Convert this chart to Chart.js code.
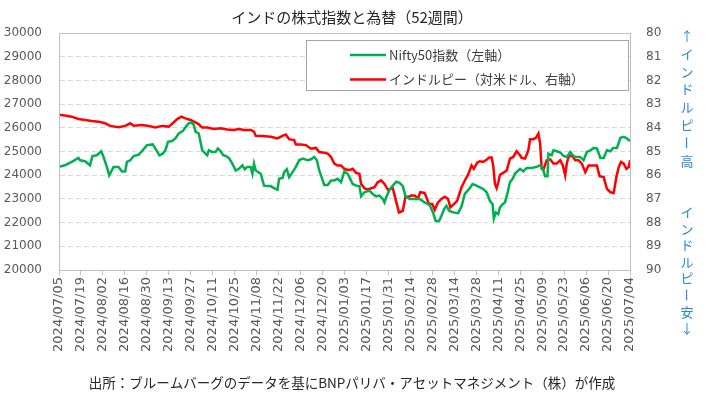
<!DOCTYPE html>
<html>
<head>
<meta charset="UTF-8">
<title>インドの株式指数と為替（52週間）</title>
<script src="https://cdn.jsdelivr.net/npm/chart.js"></script>
<style>
  body { margin: 0; background: #ffffff; }
  .wrap { position: relative; width: 707px; height: 408px; }
</style>
</head>
<body>
<div class="wrap"><canvas id="chart"></canvas></div>
<script>
// Tick labels (every 2 weeks, x = days since 2024/07/05)
const dateLabels = [
  '2024/07/05', '2024/07/19', '2024/08/02', '2024/08/16', '2024/08/30', '2024/09/13',
  '2024/09/27', '2024/10/11', '2024/10/25', '2024/11/08', '2024/11/22', '2024/12/06',
  '2024/12/20', '2025/01/03', '2025/01/17', '2025/01/31', '2025/02/14', '2025/02/28',
  '2025/03/14', '2025/03/28', '2025/04/11', '2025/04/25', '2025/05/09', '2025/05/23',
  '2025/06/06', '2025/06/20', '2025/07/04'
];
const tickStepDays = 14;

// Nifty50 index (left axis)
const niftyDays = [
  0, 3.8, 6, 8.1, 12.4, 13.4, 16.6, 19.8, 21.3, 24.1, 26.9, 28.4, 30.5, 32, 34.8, 38,
  40.1, 42.2, 43.3, 45.4, 47.6, 50.8, 53.3, 56.1, 59.7, 61.4, 64, 66.1, 67.8, 69.5, 72.1, 74.2,
  76.3, 78.9, 81, 82.7, 84.5, 85.9, 87, 89.1, 91.3, 94.5, 95.5, 97.7, 99.8, 101.3, 103, 104.7,
  106.2, 108.3, 110.5, 112.6, 114.7, 116.9, 118.4, 120.1, 122.2, 123.3, 124.3, 125.4, 128.6, 130.7, 132.9, 135,
  137.1, 139.3, 140.3, 142.5, 143.5, 145.2, 146.7, 148.9, 151, 153.1, 155.3, 158.5, 160.6, 162.7, 164.4, 165.9,
  167.4, 169.1, 171.3, 173.4, 175.5, 177.6, 179.8, 181.9, 184, 185.1, 187.2, 189.4, 191.5, 192.6, 194.7, 197.9,
  200, 202.2, 204.3, 206.4, 207.5, 208.6, 210.7, 212.8, 215, 217.1, 219.2, 220.9, 223.5, 226.7, 229.9, 233.1,
  236.3, 238.4, 240.1, 242.3, 243.8, 245.5, 247, 248.7, 251.2, 254.4, 256.6, 258.7, 261.5, 263.6, 266.2, 268.3,
  270.4, 272.6, 274.7, 276.4, 277.2, 278.5, 280, 281.1, 282.8, 284.3, 285.8, 287.5, 289.2, 290.7, 292.2, 293.9,
  296, 298.1, 301.3, 304.5, 306.7, 308.4, 309.9, 311.4, 312, 314.1, 315.2, 317.3, 319.5, 321.6, 323.7, 325.9,
  327.6, 329.1, 332.3, 334.4, 336.5, 338.7, 340.8, 342.9, 345.1, 347.2, 349.3, 351.5, 353.2, 355.7, 357.9, 360,
  362.1, 364
];
const niftyValues = [
  24350, 24420, 24490, 24560, 24730, 24630, 24590, 24420, 24810, 24840, 25010, 24770, 24350, 23990, 24350, 24350,
  24160, 24160, 24560, 24630, 24810, 24870, 25050, 25270, 25300, 25130, 24840, 24910, 25050, 25410, 25440, 25550,
  25760, 25860, 26050, 26190, 26230, 26120, 25840, 25760, 25050, 24840, 25050, 24980, 24980, 25130, 25010, 24840,
  24810, 24730, 24490, 24200, 24270, 24420, 24250, 24350, 24350, 24060, 24490, 24200, 24060, 23560, 23540, 23540,
  23450, 23390, 23850, 23880, 24130, 24250, 23920, 24130, 24350, 24630, 24700, 24630, 24670, 24770, 24630, 24200,
  23920, 23590, 23590, 23780, 23780, 23850, 23710, 24160, 24060, 23920, 23630, 23560, 23540, 23110, 23280, 23350,
  23210, 23110, 23140, 23000, 22850, 23070, 23390, 23560, 23730, 23680, 23540, 23110, 23000, 23000, 23000, 22850,
  22740, 22430, 22070, 22070, 22290, 22570, 22710, 22500, 22430, 22400, 22680, 23210, 23420, 23630, 23560, 23490,
  23420, 23280, 22920, 22780, 22170, 22430, 22360, 22640, 22780, 22850, 23210, 23710, 23850, 24060, 24160, 24270,
  24160, 24300, 24300, 24350, 24420, 24270, 23960, 23960, 24910, 24840, 25050, 25010, 24960, 24810, 24770, 24980,
  24840, 24770, 24770, 24630, 24980, 25050, 25150, 25130, 24730, 24730, 25050, 25010, 25150, 25150, 25580, 25620,
  25550, 25440
];

// Indian rupee per US dollar (right axis, reversed)
const inrDays = [
  0, 3.8, 8.1, 12.4, 16.6, 20.9, 25.2, 29.4, 32.6, 38, 42.2, 45.4, 47.6, 52.9, 57.2, 61.4,
  65.7, 70, 73.1, 75.3, 78.1, 80.6, 83.8, 87, 89.1, 91.3, 94.5, 98.7, 103, 107.3, 111.5, 114.7,
  117.9, 122.2, 124.3, 125.4, 129.7, 135, 139.3, 142.5, 144.6, 146.7, 149.9, 151, 154.2, 157.4, 160.6, 163.8,
  165.9, 169.1, 171.3, 173.4, 175.5, 177.6, 179.8, 181.9, 184, 186.2, 187.2, 189.4, 191.5, 192.6, 194.7, 196.8,
  199, 201.1, 203.2, 205.4, 207.5, 209.6, 212.8, 214.5, 216.7, 219.2, 220.9, 222.4, 224.6, 226.7, 228.8, 230.3,
  233.1, 235.9, 238, 239.5, 241.6, 243.8, 245.9, 248, 249.5, 251.7, 253.8, 256.6, 259.3, 260.8, 263, 264.4,
  266.6, 268.3, 270.4, 272.6, 274.3, 275.8, 276.8, 277.9, 279, 280, 281.1, 283.2, 285.4, 287.5, 289.6, 291.7,
  293.9, 294.9, 297.1, 299.2, 300.3, 302.4, 304.1, 305.6, 306.7, 307.7, 308.8, 310.9, 313.1, 315.2, 317.3, 319.5,
  321.2, 322.7, 323.7, 324.8, 326.9, 329.1, 331.2, 333.3, 335.5, 337.6, 340.8, 342.9, 344.6, 347.2, 349.3, 351.5,
  353.6, 355.3, 356.8, 358.3, 360, 361.7, 363.2, 364
];
const inrValues = [
  83.45, 83.48, 83.53, 83.63, 83.67, 83.71, 83.74, 83.81, 83.92, 83.98, 83.92, 83.81, 83.91, 83.88, 83.92, 83.99,
  83.92, 83.95, 83.77, 83.63, 83.53, 83.60, 83.67, 83.77, 83.85, 83.99, 83.99, 84.05, 84.02, 84.07, 84.09, 84.05,
  84.09, 84.09, 84.16, 84.34, 84.35, 84.38, 84.45, 84.34, 84.28, 84.48, 84.52, 84.70, 84.70, 84.73, 84.88, 84.85,
  85.02, 85.05, 85.09, 85.23, 85.51, 85.59, 85.59, 85.73, 85.78, 85.76, 85.73, 85.90, 85.94, 86.37, 86.55, 86.61,
  86.55, 86.51, 86.30, 86.22, 86.37, 86.61, 86.55, 87.00, 87.57, 87.50, 86.89, 86.93, 86.86, 86.86, 86.98, 86.72,
  86.75, 87.22, 87.22, 87.46, 87.15, 87.00, 86.91, 87.00, 87.36, 87.22, 87.08, 86.51, 86.15, 85.98, 85.59, 85.73,
  85.47, 85.41, 85.44, 85.35, 85.25, 85.25, 85.59, 86.37, 86.55, 86.32, 85.98, 85.90, 85.80, 85.30, 85.23, 84.99,
  85.16, 85.27, 85.30, 84.95, 84.48, 84.48, 84.42, 84.24, 84.66, 85.73, 85.76, 85.37, 85.33, 85.51, 85.51, 85.37,
  85.59, 86.01, 85.51, 85.23, 85.16, 85.37, 85.37, 85.51, 85.87, 85.59, 85.59, 85.59, 86.04, 86.08, 86.58, 86.72,
  86.75, 86.08, 85.66, 85.44, 85.51, 85.73, 85.66, 85.37
];

const seriesLabels = ['Nifty50指数（左軸）', 'インドルピー（対米ドル、右軸）'];
const seriesColors = ['#00b050', '#ff0000'];

const titleText = 'インドの株式指数と為替（52週間）';
const footerText = '出所：ブルームバーグのデータを基にBNPパリバ・アセットマネジメント（株）が作成';
const sideTextUp = ['↑', 'イ', 'ン', 'ド', 'ル', 'ピ', 'ー', '高'];
const sideTextDown = ['イ', 'ン', 'ド', 'ル', 'ピ', 'ー', '安', '↓'];

const jpFont = "'Noto Sans CJK JP', 'Noto Sans', sans-serif";
const tickFont = "'DejaVu Sans', sans-serif";

// draw one character of vertical text; the long vowel mark turns upright
function drawVerticalChar(ctx, c, x, y) {
  if (c === 'ー') {
    ctx.save();
    ctx.translate(x, y);
    ctx.rotate(Math.PI / 2);
    ctx.fillText(c, 0, 0);
    ctx.restore();
  } else {
    ctx.fillText(c, x, y);
  }
}

// Title, footer, legend box, plot frame and the blue side notes
const decorations = {
  id: 'decorations',
  afterDatasetsDraw(chart) {
    const ctx = chart.ctx;
    const area = chart.chartArea;
    ctx.save();

    // plot frame
    ctx.strokeStyle = '#bfbfbf';
    ctx.lineWidth = 1;
    ctx.strokeRect(Math.round(area.left) + 0.5, Math.round(area.top) + 0.5,
      Math.round(area.right - area.left), Math.round(area.bottom - area.top));

    // legend box
    const lx = 306.5, ly = 40.5, lw = 322, lh = 50;
    ctx.fillStyle = '#ffffff';
    ctx.fillRect(lx, ly, lw, lh);
    ctx.strokeStyle = '#a6a6a6';
    ctx.strokeRect(lx, ly, lw, lh);
    ctx.font = '13px ' + jpFont;
    ctx.textBaseline = 'middle';
    ctx.textAlign = 'left';
    chart.data.datasets.forEach((ds, i) => {
      const y = 55 + i * 24.5;
      ctx.strokeStyle = ds.borderColor;
      ctx.lineWidth = 2.5;
      ctx.beginPath();
      ctx.moveTo(350, y);
      ctx.lineTo(386, y);
      ctx.stroke();
      ctx.fillStyle = '#404040';
      ctx.fillText(ds.label, 389, y);
    });

    // title
    ctx.fillStyle = '#262626';
    ctx.textAlign = 'center';
    ctx.font = '15px ' + jpFont;
    ctx.fillText(titleText, 352, 17);

    // footer
    ctx.font = '13.5px ' + jpFont;
    ctx.fillText(footerText, 352, 383);

    // blue side notes
    ctx.fillStyle = '#2e86d6';
    ctx.font = '13px ' + jpFont;
    sideTextUp.forEach((c, i) => drawVerticalChar(ctx, c, 687, 36 + i * 17.8));
    sideTextDown.forEach((c, i) => drawVerticalChar(ctx, c, 687, 212 + i * 16.6));

    ctx.restore();
  }
};

const ctx = document.getElementById('chart').getContext('2d');
const chart = new Chart(ctx, {
  type: 'line',
  data: {
    datasets: [
      {
        label: seriesLabels[0],
        data: niftyDays.map((d, i) => ({ x: d, y: niftyValues[i] })),
        borderColor: seriesColors[0],
        borderWidth: 2.5,
        pointRadius: 0,
        tension: 0,
        yAxisID: 'y'
      },
      {
        label: seriesLabels[1],
        data: inrDays.map((d, i) => ({ x: d, y: inrValues[i] })),
        borderColor: seriesColors[1],
        borderWidth: 2.5,
        pointRadius: 0,
        tension: 0,
        yAxisID: 'y1'
      }
    ]
  },
  options: {
    responsive: true,
    maintainAspectRatio: false,
    animation: false,
    layout: { padding: { top: 33, right: 35, bottom: 40, left: 0 } },
    plugins: {
      legend: { display: false },
      title: { display: false },
      tooltip: { enabled: false }
    },
    scales: {
      x: {
        type: 'linear',
        min: 0,
        max: (dateLabels.length - 1) * tickStepDays,
        afterBuildTicks: (scale) => {
          scale.ticks = dateLabels.map((_, i) => ({ value: i * tickStepDays }));
        },
        afterFit: (scale) => { scale.height = 98; },
        grid: { drawOnChartArea: false, drawTicks: true, tickLength: 5, color: '#bfbfbf' },
        border: { color: '#bfbfbf' },
        ticks: {
          autoSkip: false,
          minRotation: 90,
          maxRotation: 90,
          padding: 2,
          color: '#595959',
          font: { family: tickFont, size: 13 },
          callback: (value) => dateLabels[Math.round(value / tickStepDays)]
        }
      },
      y: {
        position: 'left',
        min: 20000,
        max: 30000,
        afterFit: (scale) => { scale.width = 59; },
        grid: { color: '#d9d9d9', drawTicks: false },
        border: { color: '#bfbfbf', dash: [5, 3] },
        ticks: {
          stepSize: 1000,
          padding: 17,
          color: '#595959',
          font: { family: tickFont, size: 12 },
          callback: (value) => String(value)
        }
      },
      y1: {
        position: 'right',
        reverse: true,
        min: 80,
        max: 90,
        afterFit: (scale) => { scale.width = 42; },
        grid: { drawOnChartArea: false, drawTicks: false },
        border: { color: '#bfbfbf' },
        ticks: {
          stepSize: 1,
          padding: 16,
          color: '#595959',
          font: { family: tickFont, size: 12 },
          callback: (value) => String(value)
        }
      }
    }
  },
  plugins: [decorations]
});
</script>
</body>
</html>
